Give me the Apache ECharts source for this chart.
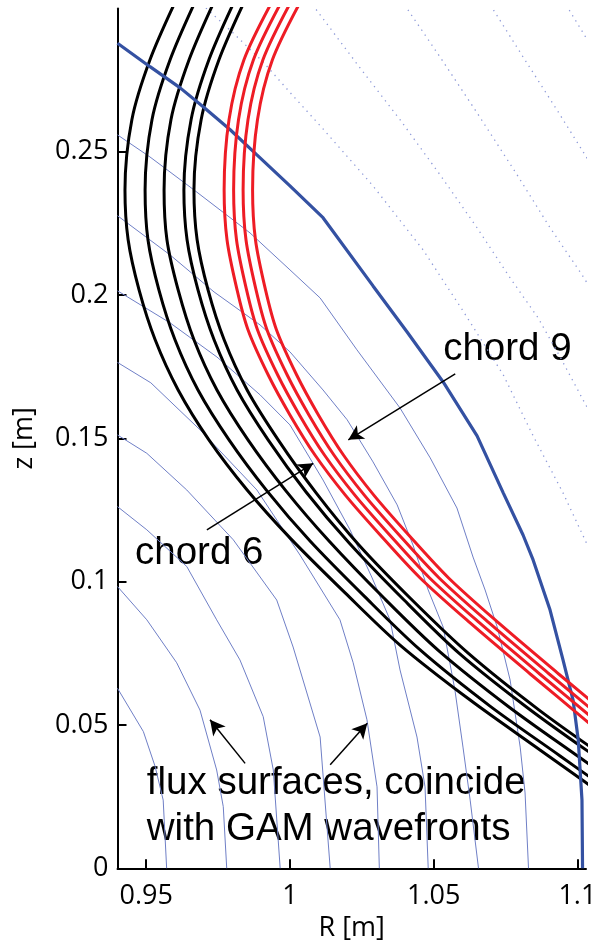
<!DOCTYPE html>
<html>
<head>
<meta charset="utf-8">
<script src="https://cdn.jsdelivr.net/npm/echarts@6/dist/echarts.min.js"></script>
<style>
  html, body { margin: 0; padding: 0; background: #fff; }
  #chart { width: 592px; height: 940px; }
</style>
</head>
<body>
<div id="chart"></div>
<script>
// tick labels
const rTicks = [0.95, 1, 1.05, 1.1];
const zTicks = [0, 0.05, 0.1, 0.15, 0.2, 0.25];

// last closed flux surface (thick blue), [R, z]
const lcfs = [[0.9400,0.2879],[0.9513,0.2797],[0.9618,0.2723],[0.9698,0.2657],[0.9792,0.2577],[0.9885,0.2489],[1.0000,0.2381],[1.0115,0.2270],[1.0289,0.2032],[1.0407,0.1872],[1.0533,0.1697],[1.0651,0.1509],[1.0742,0.1310],[1.0811,0.1163],[1.0846,0.1076],[1.0905,0.0901],[1.0950,0.0727],[1.0985,0.0587],[1.1003,0.0448],[1.1016,0.0238],[1.1018,0]];

// inner flux surfaces (thin blue)
const flux1 = [[0.9400,0.0628],[0.9490,0.0477],[0.9531,0.0355],[0.9559,0.0238],[0.9571,0]];
const flux2 = [[0.9400,0.0983],[0.9502,0.0867],[0.9606,0.0717],[0.9687,0.0552],[0.9745,0.0343],[0.9768,0.0215],[0.9780,0]];
const flux3 = [[0.9400,0.1262],[0.9502,0.1181],[0.9641,0.1053],[0.9745,0.0867],[0.9826,0.0727],[0.9907,0.0529],[0.9942,0.0343],[0.9966,0]];
const flux4 = [[0.9400,0.1512],[0.9502,0.1448],[0.9641,0.1320],[0.9803,0.1146],[0.9954,0.0936],[1.0011,0.0772],[1.0105,0.0458],[1.0140,0]];
const flux5 = [[0.9400,0.1765],[0.9516,0.1694],[0.9687,0.1530],[0.9885,0.1320],[1.0035,0.1093],[1.0174,0.0867],[1.0220,0.0717],[1.0268,0.0518],[1.0303,0.0284],[1.0311,0]];
const flux6 = [[0.9400,0.2015],[0.9583,0.1903],[0.9746,0.1784],[0.9896,0.1652],[1.0000,0.1547],[1.0115,0.1355],[1.0209,0.1181],[1.0286,0.1013],[1.0348,0.0867],[1.0383,0.0692],[1.0442,0.0458],[1.0470,0.0284],[1.0481,0]];
const flux7 = [[0.9400,0.2277],[0.9583,0.2140],[0.9736,0.2011],[0.9896,0.1896],[1.0000,0.1802],[1.0115,0.1669],[1.0199,0.1565],[1.0289,0.1418],[1.0373,0.1268],[1.0428,0.1128],[1.0481,0.0971],[1.0533,0.0842],[1.0574,0.0622],[1.0602,0.0423],[1.0627,0.0238],[1.0656,0]];
const flux8 = [[0.9400,0.2559],[0.9513,0.2482],[0.9666,0.2367],[0.9861,0.2217],[1.0000,0.2088],[1.0105,0.1990],[1.0233,0.1809],[1.0383,0.1606],[1.0488,0.1432],[1.0581,0.1257],[1.0637,0.1086],[1.0679,0.0971],[1.0721,0.0842],[1.0766,0.0657],[1.0801,0.0423],[1.0818,0.0263],[1.0830,0]];

// open flux surfaces outside the separatrix (dotted)
const outer1 = [[0.9677,0.3030],[0.9802,0.2915],[0.9906,0.2814],[1.0011,0.2695],[1.0115,0.2580],[1.0289,0.2381],[1.0463,0.2158],[1.0602,0.1945],[1.0742,0.1722],[1.0846,0.1509],[1.0950,0.1310],[1.1020,0.1160],[1.1062,0.1069]];
const outer2 = [[1.0066,0.3030],[1.0233,0.2807],[1.0383,0.2612],[1.0522,0.2420],[1.0651,0.2235],[1.0766,0.2060],[1.0863,0.1921],[1.0940,0.1784],[1.1020,0.1634],[1.1062,0.1558]];
const outer3 = [[1.0387,0.3030],[1.0522,0.2831],[1.0651,0.2636],[1.0790,0.2420],[1.0905,0.2235],[1.1016,0.2071],[1.1062,0.1997]];
const outer4 = [[1.0686,0.3030],[1.0811,0.2831],[1.0929,0.2646],[1.1020,0.2500],[1.1062,0.2430]];
const outer5 = [[1.0950,0.3030],[1.1020,0.2915],[1.1062,0.2845]];

// lines of sight, chord 6 group (black)
const black1 = [[0.9604,0.3030],[0.9513,0.2821],[0.9450,0.2612],[0.9426,0.2367],[0.9437,0.2193],[0.9475,0.2018],[0.9531,0.1844],[0.9611,0.1669],[0.9718,0.1495],[0.9851,0.1320],[1.0000,0.1153],[1.0192,0.0961],[1.0383,0.0779],[1.0627,0.0587],[1.0870,0.0413],[1.1027,0.0301],[1.1079,0.0263]];
const black2 = [[0.9673,0.3030],[0.9583,0.2821],[0.9520,0.2612],[0.9496,0.2367],[0.9506,0.2193],[0.9544,0.2018],[0.9600,0.1844],[0.9680,0.1669],[0.9788,0.1495],[0.9920,0.1317],[1.0070,0.1142],[1.0261,0.0947],[1.0453,0.0762],[1.0696,0.0566],[1.0940,0.0392],[1.1097,0.0280]];
const black3 = [[0.9739,0.3030],[0.9649,0.2821],[0.9586,0.2612],[0.9562,0.2367],[0.9572,0.2193],[0.9611,0.2018],[0.9666,0.1844],[0.9746,0.1669],[0.9854,0.1495],[0.9986,0.1317],[1.0136,0.1142],[1.0327,0.0943],[1.0519,0.0758],[1.0762,0.0563],[1.1006,0.0388],[1.1163,0.0277]];
const black4 = [[0.9809,0.3030],[0.9718,0.2821],[0.9656,0.2612],[0.9631,0.2367],[0.9642,0.2193],[0.9680,0.2018],[0.9736,0.1844],[0.9816,0.1669],[0.9924,0.1495],[1.0056,0.1313],[1.0206,0.1135],[1.0397,0.0936],[1.0588,0.0751],[1.0832,0.0556],[1.1076,0.0381]];
const black5 = [[0.9844,0.3030],[0.9753,0.2821],[0.9691,0.2612],[0.9666,0.2367],[0.9677,0.2193],[0.9715,0.2018],[0.9771,0.1844],[0.9851,0.1669],[0.9959,0.1495],[1.0091,0.1310],[1.0240,0.1128],[1.0432,0.0929],[1.0623,0.0748],[1.0867,0.0552],[1.1110,0.0378]];

// lines of sight, chord 9 group (red)
const red1 = [[0.9941,0.3030],[0.9840,0.2821],[0.9788,0.2612],[0.9771,0.2367],[0.9781,0.2193],[0.9816,0.2018],[0.9854,0.1879],[0.9924,0.1722],[1.0000,0.1582],[1.0087,0.1442],[1.0192,0.1303],[1.0314,0.1163],[1.0453,0.1013],[1.0627,0.0856],[1.0836,0.0678],[1.1027,0.0518],[1.1079,0.0472]];
const red2 = [[0.9974,0.3030],[0.9873,0.2821],[0.9821,0.2612],[0.9804,0.2367],[0.9814,0.2193],[0.9849,0.2018],[0.9887,0.1879],[0.9957,0.1722],[1.0033,0.1582],[1.0120,0.1442],[1.0225,0.1303],[1.0347,0.1163],[1.0486,0.1013],[1.0660,0.0856],[1.0869,0.0678],[1.1060,0.0518],[1.1112,0.0472]];
const red3 = [[1.0007,0.3030],[0.9906,0.2821],[0.9854,0.2612],[0.9837,0.2367],[0.9847,0.2193],[0.9882,0.2018],[0.9920,0.1879],[0.9990,0.1722],[1.0066,0.1582],[1.0153,0.1442],[1.0258,0.1303],[1.0380,0.1163],[1.0519,0.1013],[1.0693,0.0856],[1.0902,0.0678],[1.1093,0.0518],[1.1145,0.0472]];
const red4 = [[1.0040,0.3030],[0.9939,0.2821],[0.9887,0.2612],[0.9870,0.2367],[0.9880,0.2193],[0.9915,0.2018],[0.9953,0.1879],[1.0023,0.1722],[1.0099,0.1582],[1.0186,0.1442],[1.0291,0.1303],[1.0413,0.1163],[1.0552,0.1013],[1.0726,0.0856],[1.0935,0.0678],[1.1126,0.0518],[1.1178,0.0472]];

// annotation texts and arrows
const notes = [
  { name: "chord 9", value: [1.0533, 0.1812] },
  { name: "chord 6", value: [0.9461, 0.1098] },
  { name: "flux surfaces, coincide\nwith GAM wavefronts", value: [0.9502, 0.0215] },
];
const arrows = [
  { from: [1.0575, 0.1725], to: [1.0203, 0.1495] },
  { from: [0.9711, 0.1181], to: [1.0081, 0.1413] },
  { from: [0.9844, 0.0366], to: [0.9722, 0.0518] },
  { from: [1.0140, 0.0361], to: [1.0269, 0.0506] },
];

const chart = echarts.init(document.getElementById("chart"));

const makeLine = function (data, color, width, extra) {
  return Object.assign({
    type: "line",
    data: data,
    symbol: "none",
    silent: true,
    lineStyle: { color: color, width: width },
  }, extra || {});
};

const tickFont = { fontSize: 27, fontFamily: "Open Sans", color: "#000" };

chart.setOption({
  animation: false,
  grid: { left: 117.5, right: 6, top: 8.5, bottom: 71.7, outerBoundsMode: "none", containLabel: false },
  xAxis: {
    type: "value",
    min: 0.94,
    max: 1.103,
    name: "R [m]",
    nameLocation: "middle",
    nameGap: 47,
    nameTextStyle: tickFont,
    axisLine: { onZero: false, lineStyle: { color: "#000", width: 2 } },
    axisTick: { inside: true, length: 9, customValues: rTicks, lineStyle: { color: "#000", width: 2 } },
    axisLabel: Object.assign({ customValues: rTicks, margin: 15 }, tickFont),
    splitLine: { show: false },
  },
  yAxis: {
    type: "value",
    min: 0,
    max: 0.3,
    name: "z [m]",
    nameLocation: "middle",
    nameGap: 80,
    nameTextStyle: tickFont,
    axisLine: { onZero: false, lineStyle: { color: "#000", width: 2 } },
    axisTick: { inside: true, length: 9, customValues: zTicks, lineStyle: { color: "#000", width: 2 } },
    axisLabel: Object.assign({ customValues: zTicks, margin: 9 }, tickFont),
    splitLine: { show: false },
  },
  series: [
    ...[flux1, flux2, flux3, flux4, flux5, flux6, flux7, flux8].map((d) => makeLine(d, "#6f7fc6", 1)),
    ...[outer1, outer2, outer3, outer4, outer5].map((d) =>
      makeLine(d, "#8e9ad8", 1.3, { lineStyle: { color: "#8e9ad8", width: 1.3, type: [1.3, 4.7] } })
    ),
    ...[black1, black2, black3, black4, black5].map((d) => makeLine(d, "#000", 3, { smooth: 0.3 })),
    makeLine(lcfs, "#3451a2", 3.2),
    ...[red1, red2, red3, red4].map((d) => makeLine(d, "#ee1c25", 3, { smooth: 0.3 })),
    {
      type: "scatter",
      data: notes,
      symbolSize: 0,
      silent: true,
      itemStyle: { opacity: 1 },
      label: {
        show: true,
        position: "right",
        distance: 0,
        formatter: "{b}",
        fontSize: 38.5,
        lineHeight: 46,
        fontFamily: "Liberation Sans",
        color: "#000",
      },
      markLine: {
        silent: true,
        symbol: ["none", "arrow"],
        symbolSize: [12, 15],
        label: { show: false },
        lineStyle: { color: "#000", width: 1.5, type: "solid" },
        data: arrows.map((a) => [{ coord: a.from }, { coord: a.to }]),
      },
    },
  ],
});
</script>
</body>
</html>
